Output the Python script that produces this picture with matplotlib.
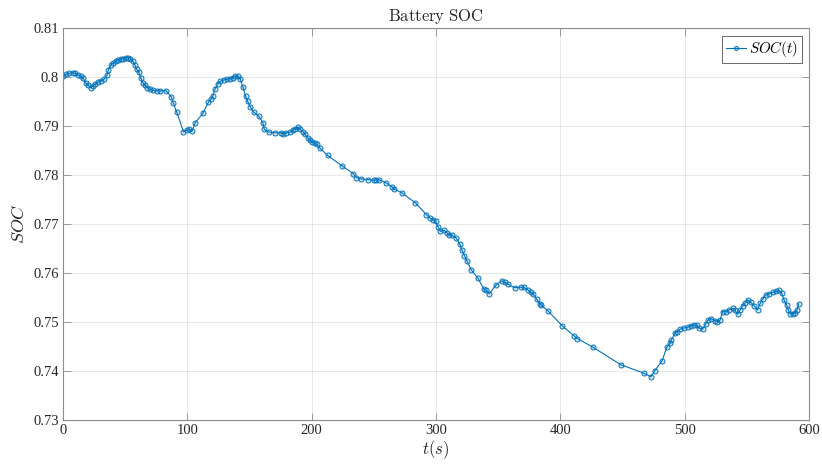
import matplotlib
matplotlib.use("Agg")
import matplotlib.pyplot as plt

plt.rcParams["font.family"] = ["Liberation Serif", "DejaVu Serif"]
plt.rcParams["mathtext.fontset"] = "cm"

# Time stamps (s)
t = [0, 2.4, 5.1, 7.8, 9.7, 12.3, 14.2, 15.8, 18.5, 20.4, 22.3, 23.9, 25.8, 28.5,
     30.3, 33.0, 35.2, 36.5, 38.4, 40.5, 42.7, 44.6, 46.4, 48.6, 50.7, 52.6, 54.0,
     56.1, 58.0, 59.3, 60.9, 62.5, 64.1, 66.0, 67.9, 70.1, 72.7, 75.4, 78.1, 82.9,
     87.0, 88.8, 91.5, 96.9, 99.6, 101.7, 103.6, 106.3, 112.5, 117.0, 118.9, 120.5,
     122.4, 124.3, 126.4, 129.1, 131.8, 134.5, 136.6, 138.5, 140.4, 142.5, 144.7,
     146.8, 148.4, 150.6, 153.3, 157.3, 160.8, 161.9, 165.4, 170.7, 175.3, 176.9,
     179.6, 182.8, 185.0, 186.8, 188.7, 190.9, 193.0, 194.9, 196.8, 198.4, 200.3,
     202.9, 204.3, 206.4, 212.9, 224.1, 233.3, 236.0, 239.7, 245.1, 249.9, 252.1,
     254.2, 259.6, 264.7, 266.5, 272.7, 283.5, 292.3, 295.5, 297.7, 299.6, 301.7,
     303.6, 306.8, 309.0, 310.6, 313.0, 316.0, 319.0, 321.0, 322.9, 325.1, 328.3,
     333.7, 338.5, 340.6, 342.8, 348.2, 353.0, 355.1, 357.8, 363.2, 368.0, 370.7,
     373.9, 376.1, 378.2, 380.9, 383.6, 384.7, 390.0, 401.6, 411.0, 413.6, 426.3,
     448.5, 467.4, 472.8, 476.0, 481.9, 485.6, 488.3, 489.4, 492.1, 494.2, 496.4,
     499.6, 502.3, 505.0, 507.6, 509.8, 511.7, 514.4, 517.0, 518.9, 521.1, 524.3,
     526.4, 528.6, 530.5, 533.1, 535.8, 538.5, 540.4, 542.5, 544.7, 546.6, 548.4,
     550.6, 553.3, 555.9, 558.6, 560.8, 562.7, 565.4, 568.0, 570.7, 573.4, 576.1,
     578.0, 580.1, 582.0, 583.3, 584.9, 586.8, 588.7, 590.3, 591.7]

# State of charge
soc = [0.80020, 0.80055, 0.80075, 0.80089, 0.80075, 0.80034, 0.80020, 0.79986,
       0.79870, 0.79829, 0.79782, 0.79816, 0.79857, 0.79904, 0.79918, 0.79952,
       0.80034, 0.80143, 0.80239, 0.80293, 0.80327, 0.80341, 0.80361, 0.80375,
       0.80389, 0.80396, 0.80375, 0.80327, 0.80239, 0.80157, 0.80102, 0.79986,
       0.79884, 0.79829, 0.79782, 0.79748, 0.79727, 0.79720, 0.79720, 0.79720,
       0.79598, 0.79461, 0.79284, 0.78881, 0.78916, 0.78929, 0.78888, 0.79066,
       0.79257, 0.79488, 0.79543, 0.79611, 0.79761, 0.79857, 0.79911, 0.79939,
       0.79952, 0.79966, 0.79986, 0.80020, 0.80020, 0.79966, 0.79802, 0.79611,
       0.79509, 0.79393, 0.79284, 0.79202, 0.79066, 0.78930, 0.78875, 0.78862,
       0.78862, 0.78841, 0.78862, 0.78875, 0.78916, 0.78943, 0.78978, 0.78930,
       0.78882, 0.78828, 0.78759, 0.78712, 0.78677, 0.78643, 0.78623, 0.78555,
       0.78398, 0.78193, 0.78030, 0.77948, 0.77920, 0.77907, 0.77893, 0.77907,
       0.77900, 0.77845, 0.77757, 0.77716, 0.77634, 0.77429, 0.77191, 0.77116,
       0.77088, 0.77054, 0.76938, 0.76850, 0.76870, 0.76816, 0.76782, 0.76770,
       0.76720, 0.76600, 0.76460, 0.76353, 0.76237, 0.76067, 0.75896, 0.75671,
       0.75644, 0.75576, 0.75753, 0.75842, 0.75808, 0.75774, 0.75699, 0.75712,
       0.75705, 0.75658, 0.75603, 0.75569, 0.75467, 0.75371, 0.75344, 0.75228,
       0.74921, 0.74716, 0.74662, 0.74485, 0.74130, 0.73953, 0.73884, 0.74007,
       0.74212, 0.74485, 0.74566, 0.74635, 0.74771, 0.74805, 0.74853, 0.74880,
       0.74894, 0.74921, 0.74941, 0.74935, 0.74873, 0.74853, 0.74962, 0.75044,
       0.75071, 0.75030, 0.75010, 0.75044, 0.75214, 0.75214, 0.75248, 0.75276,
       0.75235, 0.75160, 0.75248, 0.75330, 0.75385, 0.75453, 0.75398, 0.75330,
       0.75248, 0.75385, 0.75467, 0.75555, 0.75576, 0.75603, 0.75624, 0.75644,
       0.75589, 0.75439, 0.75351, 0.75248, 0.75167, 0.75167, 0.75180, 0.75248,
       0.75371]

x_ticks = [0, 100, 200, 300, 400, 500, 600]
y_ticks = [0.73, 0.74, 0.75, 0.76, 0.77, 0.78, 0.79, 0.80, 0.81]
y_tick_labels = ["0.73", "0.74", "0.75", "0.76", "0.77", "0.78", "0.79", "0.8", "0.81"]

blue = "#0072BD"
axis_gray = "#262626"

fig = plt.figure(figsize=(8.22, 4.66), dpi=100)
ax = fig.add_axes([63 / 822, 46 / 466, 746 / 822, 392 / 466])

ax.plot(t, soc, color=blue, linewidth=0.8, marker="o", markersize=3.6,
        markeredgewidth=0.7, markeredgecolor=blue,
        markerfacecolor=(0.0, 0.447, 0.741, 0.18), label=r"$SOC(t)$")

ax.set_xlim(0, 600)
ax.set_ylim(0.73, 0.81)
ax.set_xticks(x_ticks)
ax.set_yticks(y_ticks)
ax.set_yticklabels(y_tick_labels)

ax.grid(True, color="#000000", alpha=0.1, linewidth=0.6)
ax.set_axisbelow(True)
for s in ax.spines.values():
    s.set_color("#8c8c8c")
    s.set_linewidth(0.8)
ax.tick_params(direction="in", length=5.4, width=0.6, colors="#8c8c8c",
               labelcolor=axis_gray, labelsize=10.5, top=True, right=True, pad=3)

ax.set_title(r"$\mathrm{Battery\ SOC}$", fontsize=12, color=axis_gray, pad=5)
ax.set_xlabel(r"$t(s)$", fontsize=12, color=axis_gray, labelpad=1)
ax.set_ylabel(r"$SOC$", fontsize=13, color=axis_gray, labelpad=4)

leg = ax.legend(loc="upper right", fontsize=10.8, frameon=True, fancybox=False,
                handlelength=1.35, handletextpad=0.2, borderpad=0.25,
                borderaxespad=0.5, markerscale=0.8)
leg.get_frame().set_edgecolor("#262626")
leg.get_frame().set_linewidth(0.6)

fig.savefig("out.png", dpi=100)
